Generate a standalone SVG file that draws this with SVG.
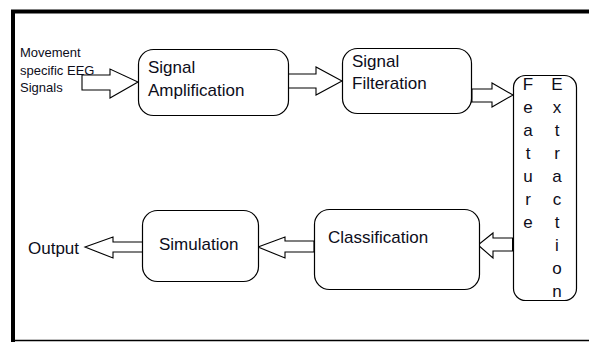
<svg xmlns="http://www.w3.org/2000/svg" width="589" height="342" viewBox="0 0 589 342">
<style>
.box{fill:#fff;stroke:#000;stroke-width:1.2}
.arr{fill:#fff;stroke:#000;stroke-width:1.1;stroke-linejoin:miter}
.t{font-family:"Liberation Sans",Arial,sans-serif;font-size:17px;fill:#0d0d1a}
.s{font-family:"Liberation Sans",Arial,sans-serif;font-size:13px;fill:#0d0d1a}
.v{font-family:"Liberation Sans",Arial,sans-serif;font-size:17px;fill:#0d0d1a;text-anchor:middle}
</style>
<rect width="589" height="342" fill="#fff"/>
<g id="frame">
<line x1="11" y1="11.5" x2="589" y2="11.5" stroke="#000" stroke-width="4"/>
<line x1="13" y1="10" x2="13" y2="342" stroke="#000" stroke-width="4"/>
<line x1="15" y1="340.5" x2="589" y2="340.5" stroke="#000" stroke-width="1.5"/>
</g>
<g id="connectors">
<polygon class="arr" points="82,75 110,75 110,69 138,82 110,98 110,90 82,90"/>
<polygon class="arr" points="288,74 316,74 316,67 342,81 316,95 316,88 288,88"/>
<polygon class="arr" points="471,89 492,89 492,83 513,95 492,107 492,102 471,102"/>
<line x1="471.5" y1="89" x2="471.5" y2="102" stroke="#000" stroke-width="2"/>
<polygon class="arr" points="513,238 493,238 493,233 478,245 493,258 493,251 513,251"/>
<line x1="513" y1="238" x2="513" y2="251" stroke="#000" stroke-width="2"/>
<polygon class="arr" points="314,241 285,241 285,237 258,247 285,258 285,252 314,252"/>
<polygon class="arr" points="143,242 113,242 113,237 85,247 113,258 113,252 143,252"/>
<line x1="143" y1="242" x2="143" y2="252" stroke="#000" stroke-width="2"/>
</g>
<g id="input">
<text class="s" x="20" y="57">Movement</text>
<text class="s" x="20" y="75">specific EEG</text>
<text class="s" x="20" y="92">Signals</text>
</g>
<g id="amplification">
<rect class="box" x="138.5" y="49.5" width="150" height="66" rx="15"/>
<text class="t" x="148" y="73">Signal</text>
<text class="t" x="148" y="96">Amplification</text>
</g>
<g id="filteration">
<rect class="box" x="342.5" y="48.5" width="129" height="65" rx="15"/>
<text class="t" x="352" y="67">Signal</text>
<text class="t" x="352" y="89">Filteration</text>
</g>
<g id="feature-extraction">
<rect class="box" x="513.5" y="75.5" width="63" height="225" rx="12"/>
<text class="v"><tspan x="528" y="90">F</tspan><tspan x="528" y="113">e</tspan><tspan x="528" y="136">a</tspan><tspan x="528" y="159">t</tspan><tspan x="528" y="182">u</tspan><tspan x="528" y="205">r</tspan><tspan x="528" y="228">e</tspan></text>
<text class="v"><tspan x="557" y="90">E</tspan><tspan x="557" y="113">x</tspan><tspan x="557" y="136">t</tspan><tspan x="557" y="159">r</tspan><tspan x="557" y="182">a</tspan><tspan x="557" y="205">c</tspan><tspan x="557" y="228">t</tspan><tspan x="557" y="251">i</tspan><tspan x="557" y="274">o</tspan><tspan x="557" y="297">n</tspan></text>
</g>
<g id="classification">
<rect class="box" x="314.5" y="209.5" width="165" height="80" rx="15"/>
<text class="t" x="328" y="243">Classification</text>
</g>
<g id="simulation">
<rect class="box" x="142.5" y="210.5" width="116" height="71" rx="15"/>
<text class="t" x="159" y="250">Simulation</text>
</g>
<g id="output">
<text class="t" x="28" y="254">Output</text>
</g>
</svg>
